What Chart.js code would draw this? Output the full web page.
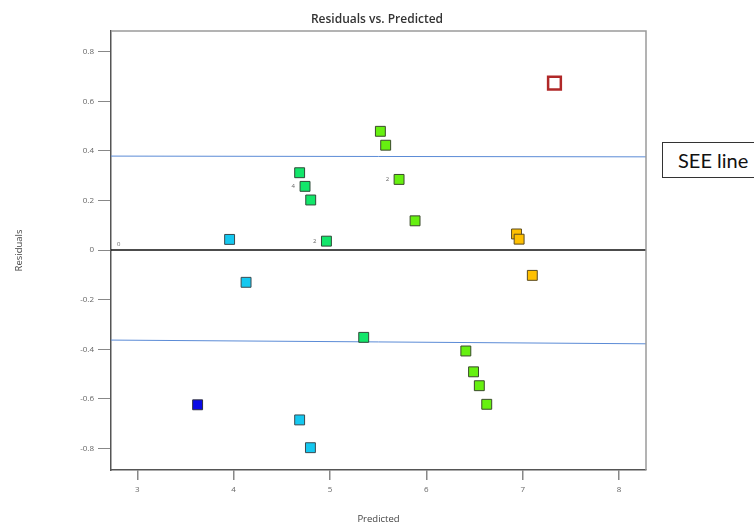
<!DOCTYPE html>
<html>
<head>
<meta charset="utf-8">
<script src="https://cdn.jsdelivr.net/npm/chart.js@4"></script>
<style>
  html, body { margin: 0; padding: 0; background: #ffffff; }
  #wrap { position: relative; width: 754px; height: 527px; overflow: hidden; }
  #seeBox {
    position: absolute; left: 662px; top: 142px; width: 110px; height: 36px;
    border: 1px solid #333; background: #fff; box-sizing: border-box;
    font-family: Lato, "Open Sans", sans-serif; font-size: 20px; color: #111;
    line-height: 34px; padding-left: 15px; white-space: nowrap;
  }
</style>
</head>
<body>
<div id="wrap">
  <canvas id="c" width="754" height="527"></canvas>
  <div id="seeBox">SEE line</div>
</div>
<script>
// ---- data ----
const chartTitle = "Residuals vs. Predicted";
const xTitle = "Predicted";
const yTitle = "Residuals";
const xMin = 2.727, xMax = 8.28;
const yMin = -0.887, yMax = 0.884;
const xTickValues = [3, 4, 5, 6, 7, 8];
const yTickValues = [-0.8, -0.6, -0.4, -0.2, 0, 0.2, 0.4, 0.6, 0.8];

const blueX = [3.626];
const blueY = [-0.624];
const cyanX = [3.958, 4.129, 4.685, 4.797];
const cyanY = [0.043, -0.130, -0.685, -0.797];
const greenX = [4.685, 4.741, 4.800, 4.963, 5.350];
const greenY = [0.312, 0.257, 0.202, 0.036, -0.352];
const limeX = [5.523, 5.578, 5.717, 5.883, 6.410, 6.490, 6.550, 6.627];
const limeY = [0.479, 0.423, 0.285, 0.118, -0.407, -0.491, -0.547, -0.622];
const orangeX = [6.936, 6.963, 7.100];
const orangeY = [0.065, 0.044, -0.102];
const redX = [7.33];
const redY = [0.673];

const zeroLineY = [0, 0];
const seeUpperY = [0.379, 0.376];
const seeLowerY = [-0.363, -0.378];

// point count labels: dataset name, point index, text
const labelSeries = ["zero", "green", "green", "lime"];
const labelIndex = [0, 1, 3, 2];
const labelText = ["0", "4", "2", "2"];

// ---- build ----
const zip = (xs, ys) => xs.map((x, i) => ({ x: x, y: ys[i] }));
const lineX = [xMin, xMax];

function pointSet(id, xs, ys, fill, border, radius, bw) {
  return {
    id: id, data: zip(xs, ys), pointStyle: 'rect', pointRadius: radius, pointHoverRadius: radius,
    backgroundColor: fill, borderColor: border, borderWidth: bw, showLine: false, order: 1
  };
}
function lineSet(id, ys, color, width) {
  return {
    id: id, data: zip(lineX, ys), showLine: true, pointRadius: 0, borderColor: color,
    borderWidth: width, backgroundColor: color, order: 2, fill: false
  };
}

const datasets = [
  lineSet('see1', seeUpperY, '#5b8bd6', 1),
  lineSet('see2', seeLowerY, '#5b8bd6', 1),
  lineSet('zero', zeroLineY, '#111111', 1.5),
  pointSet('blue', blueX, blueY, '#0a0ae6', '#303040', 7, 1),
  pointSet('cyan', cyanX, cyanY, '#14c8f0', '#3a4a50', 7, 1),
  pointSet('green', greenX, greenY, '#12e66a', '#2f4a38', 7, 1),
  pointSet('lime', limeX, limeY, '#66f010', '#3a4a2a', 7, 1),
  pointSet('orange', orangeX, orangeY, '#ffc000', '#5a4a20', 7, 1),
  pointSet('red', redX, redY, '#ffffff', '#b02828', 9, 2.5)
];

const framePlugin = {
  id: 'frame',
  afterDatasetsDraw(chart) {
    const a = chart.chartArea, ctx = chart.ctx;
    ctx.save();
    ctx.strokeStyle = '#9a9a9a';
    ctx.lineWidth = 1.5;
    ctx.beginPath();
    ctx.moveTo(a.left, a.top); ctx.lineTo(a.right, a.top); ctx.lineTo(a.right, a.bottom);
    ctx.stroke();
    // point count labels
    ctx.font = '6px "Open Sans", sans-serif';
    ctx.fillStyle = '#666';
    ctx.textBaseline = 'middle';
    labelSeries.forEach((s, k) => {
      const di = chart.data.datasets.findIndex(d => d.id === s);
      const el = chart.getDatasetMeta(di).data[labelIndex[k]];
      if (!el) return;
      if (s === 'zero') {
        ctx.textAlign = 'left';
        ctx.fillText(labelText[k], el.x + 6, el.y - 6);
      } else {
        ctx.textAlign = 'right';
        ctx.fillText(labelText[k], el.x - 10, el.y);
      }
    });
    ctx.restore();
  }
};

new Chart(document.getElementById('c'), {
  type: 'scatter',
  data: { datasets: datasets },
  plugins: [framePlugin],
  options: {
    responsive: false,
    animation: false,
    events: [],
    layout: { padding: 0 },
    plugins: {
      legend: { display: false },
      tooltip: { enabled: false },
      title: {
        display: true, text: chartTitle, color: '#333',
        font: { family: '"Open Sans", sans-serif', size: 12, weight: '600' },
        padding: { top: 12, bottom: 4.5 }
      }
    },
    scales: {
      x: {
        type: 'linear', min: xMin, max: xMax,
        afterBuildTicks: s => { s.ticks = xTickValues.map(v => ({ value: v })); },
        afterFit: s => { s.height = 57; },
        grid: { drawOnChartArea: false, drawTicks: true, tickLength: 10, color: '#888', lineWidth: 1.5 },
        border: { display: true, color: '#555', width: 1.5 },
        ticks: { color: '#666', font: { family: '"Open Sans", sans-serif', size: 8 }, padding: 5, maxRotation: 0,
                 callback: v => String(v) },
        title: { display: true, text: xTitle, color: '#444',
                 font: { family: '"Open Sans", sans-serif', size: 9.5 }, padding: { top: 0, bottom: 2 } }
      },
      y: {
        type: 'linear', min: yMin, max: yMax,
        afterBuildTicks: s => { s.ticks = yTickValues.map(v => ({ value: v })); },
        afterFit: s => { s.width = 111; },
        grid: { drawOnChartArea: false, drawTicks: true, tickLength: 13, color: '#888', lineWidth: 1 },
        border: { display: true, color: '#555', width: 1.5 },
        ticks: { color: '#666', font: { family: '"Open Sans", sans-serif', size: 8 }, padding: 4,
                 callback: v => String(v) },
        title: { display: true, text: yTitle, color: '#444',
                 font: { family: '"Open Sans", sans-serif', size: 9.5 }, padding: { top: 14, bottom: 0 } }
      },
      yRight: {
        type: 'linear', position: 'right', min: yMin, max: yMax,
        afterBuildTicks: s => { s.ticks = []; },
        afterFit: s => { s.width = 108; },
        grid: { display: false, drawOnChartArea: false, drawTicks: false },
        border: { display: false },
        ticks: { display: false },
        title: { display: false }
      }
    }
  }
});
</script>
</body>
</html>
